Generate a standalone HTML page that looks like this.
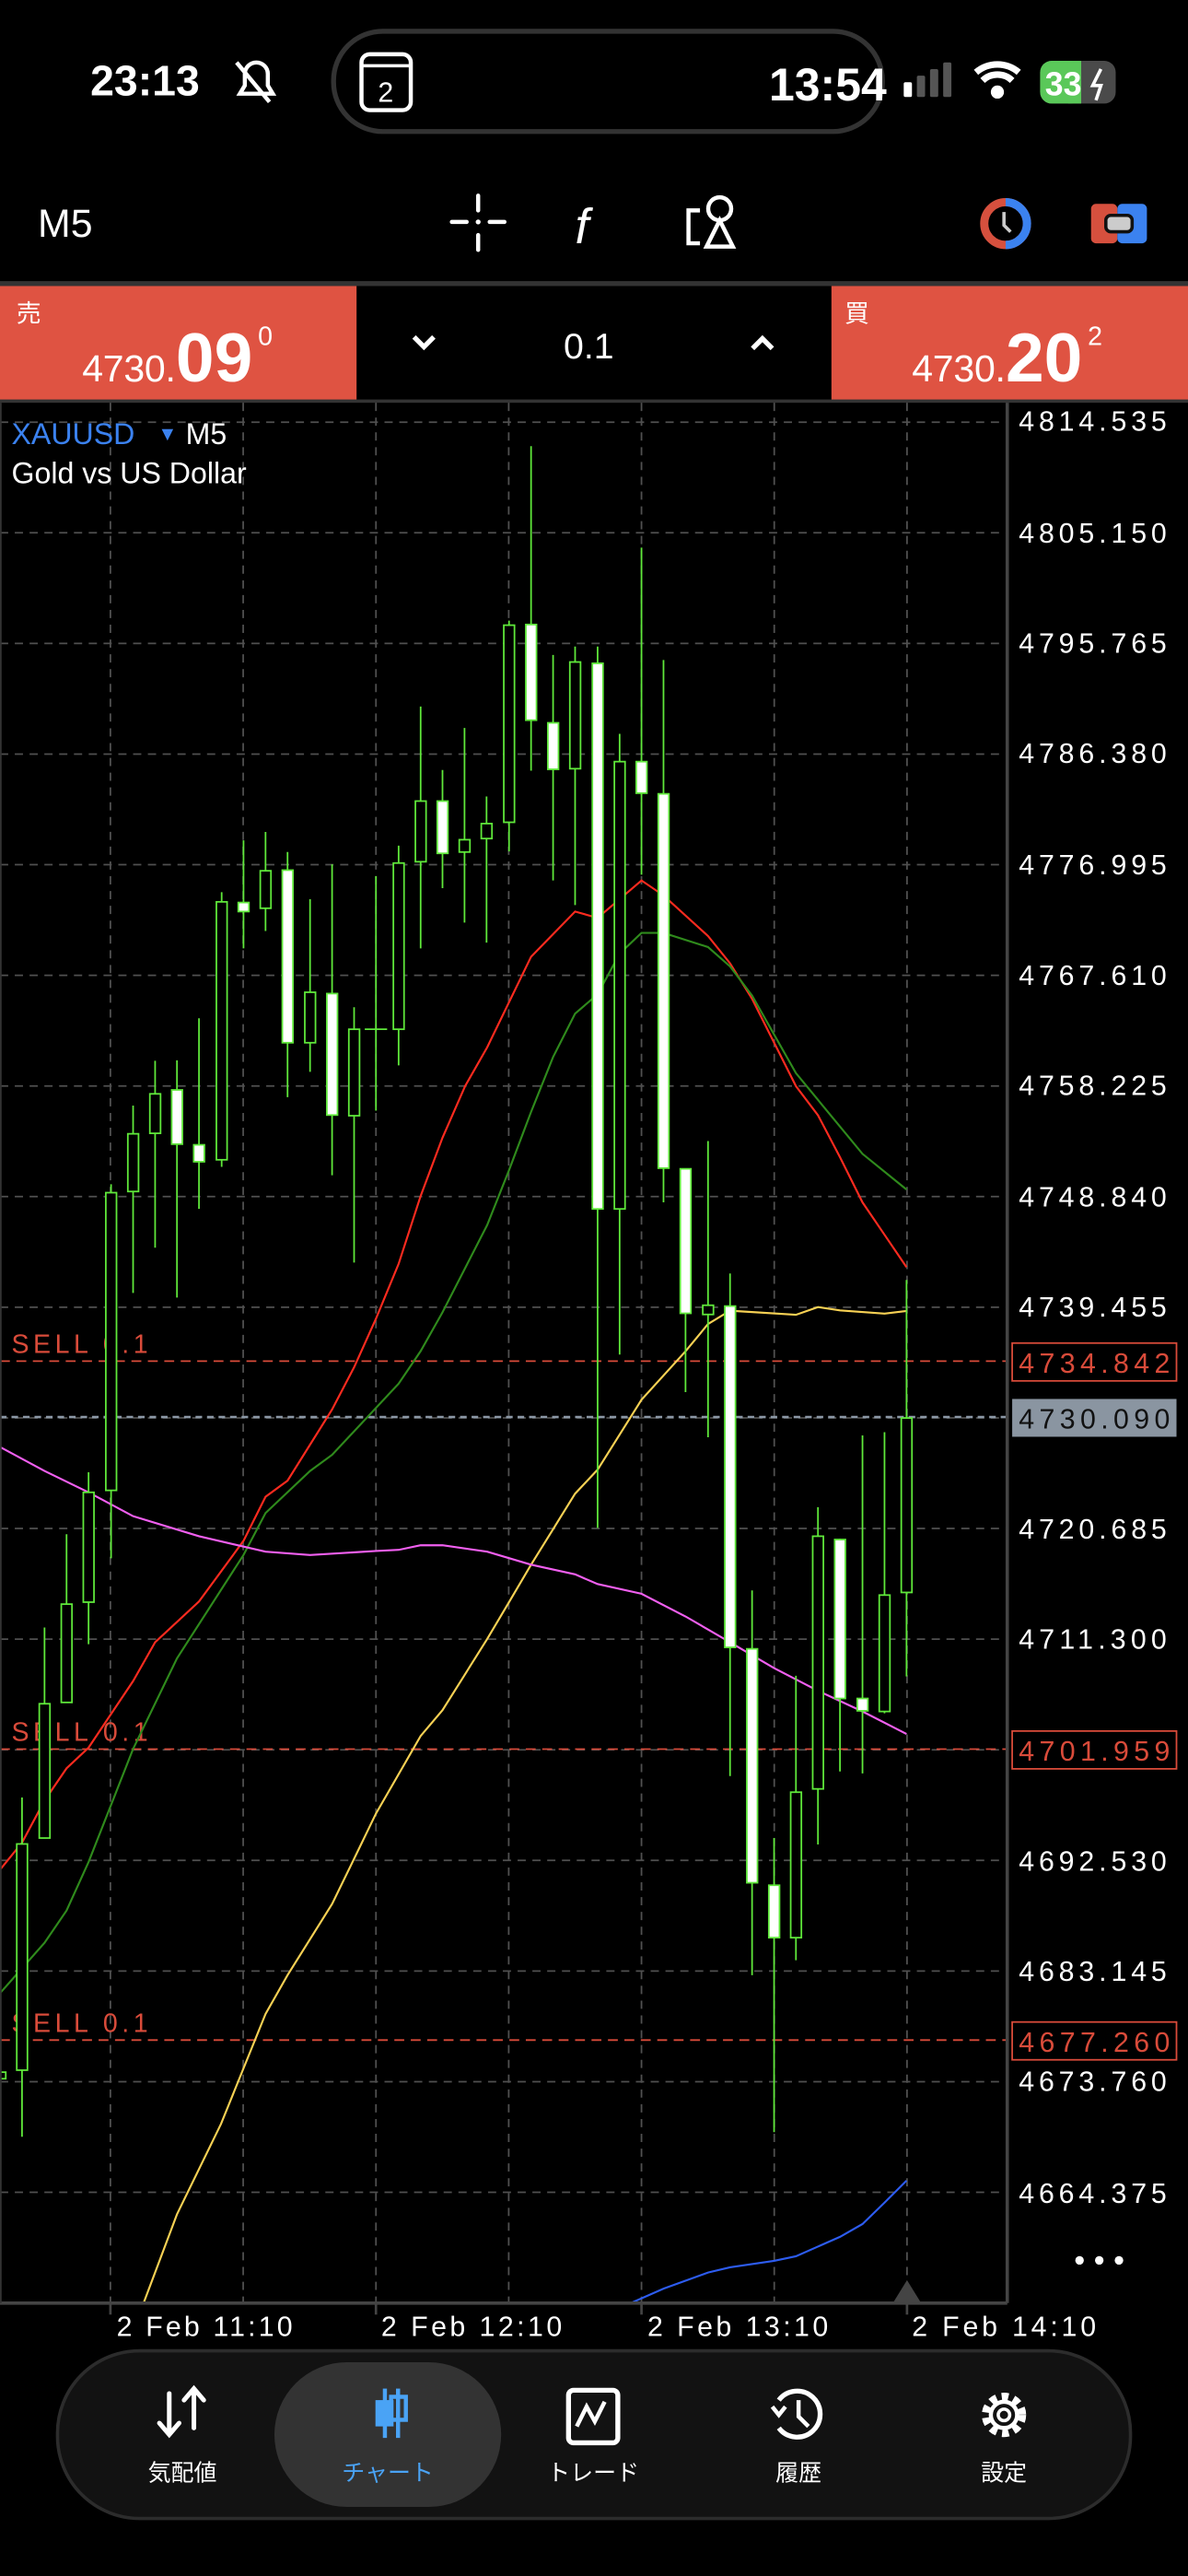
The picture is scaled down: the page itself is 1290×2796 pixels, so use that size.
<!DOCTYPE html>
<html><head><meta charset="utf-8"><style>
html,body{margin:0;padding:0;background:#000;width:1290px;height:2796px;overflow:hidden}
svg{display:block}
text{font-family:"Liberation Sans","Noto Sans CJK JP",sans-serif}
</style></head><body>
<svg width="1290" height="2796" viewBox="0 0 723 1567" preserveAspectRatio="none" xmlns="http://www.w3.org/2000/svg">
<rect width="723" height="1567" fill="#000"/>
<!-- status bar -->
<text x="55" y="58" fill="#fff" font-size="26" font-weight="bold">23:13</text>
<g stroke="#fff" stroke-width="2.5" fill="none"><path d="M146 57 h20 l-3-5 v-7 a7 7 0 0 0-14 0 v7 z"/><line x1="144" y1="38" x2="164" y2="62"/></g>
<rect x="203" y="19" width="334" height="61" rx="30" fill="none" stroke="#333" stroke-width="3"/>
<rect x="220" y="33" width="30" height="34" rx="5" fill="none" stroke="#fff" stroke-width="2.5"/>
<line x1="220" y1="40" x2="250" y2="40" stroke="#fff" stroke-width="2"/>
<text x="230" y="62" fill="#fff" font-size="17">2</text>
<text x="468" y="61" fill="#fff" font-size="28" font-weight="bold">13:54</text>
<g fill="#fff"><rect x="550" y="50" width="5" height="9" rx="1"/><rect x="558" y="46" width="5" height="13" rx="1" fill="#555"/><rect x="566" y="42" width="5" height="17" rx="1" fill="#555"/><rect x="574" y="38" width="5" height="21" rx="1" fill="#555"/></g>
<path d="M594 44 a20 20 0 0 1 26 0 M598 49 a13 13 0 0 1 18 0" stroke="#fff" stroke-width="4" fill="none"/><circle cx="607" cy="56" r="4" fill="#fff"/>
<rect x="633" y="37" width="46" height="26" rx="7" fill="#4a4a4a"/>
<rect x="633" y="37" width="25" height="26" rx="7" fill="#5ac859"/><rect x="650" y="37" width="8" height="26" fill="#5ac859"/>
<text x="636" y="58" fill="#fff" font-size="20" font-weight="bold">33</text>
<path d="M670 42 l-5 10 h5 l-3 9" stroke="#fff" stroke-width="2" fill="none"/>
<!-- toolbar -->
<text x="23" y="144" fill="#fff" font-size="24">M5</text>
<g stroke="#fff" stroke-width="2.5" stroke-linecap="round"><line x1="291" y1="119" x2="291" y2="128"/><line x1="291" y1="143" x2="291" y2="152"/><line x1="275" y1="135" x2="284" y2="135"/><line x1="298" y1="135" x2="307" y2="135"/></g><circle cx="291" cy="135" r="1.5" fill="#fff"/>
<text x="350" y="148" fill="#fff" font-size="30" font-style="italic" font-family="Liberation Serif, serif">f</text>
<g stroke="#fff" stroke-width="2.5" fill="none"><circle cx="438" cy="127" r="7"/><path d="M438 134 l-8 16 h16 z"/><path d="M426 128 h-7 v20 h7"/></g>
<circle cx="612" cy="136" r="13" fill="none" stroke="#d6503e" stroke-width="5"/>
<path d="M612 123 a13 13 0 0 1 0 26" fill="none" stroke="#3b82f0" stroke-width="5"/>
<path d="M611 129 v8 l4 4" stroke="#ccc" stroke-width="2" fill="none"/>
<rect x="664" y="124" width="16" height="24" rx="3" fill="#d6503e"/><rect x="680" y="124" width="18" height="24" rx="3" fill="#3b82f0"/><rect x="673" y="131" width="16" height="10" rx="3" fill="#ccc" stroke="#111" stroke-width="2"/>
<rect x="0" y="171" width="723" height="3" fill="#333"/>
<!-- price bar -->
<rect x="0" y="174" width="217" height="70" fill="#df5342"/>
<rect x="506" y="174" width="217" height="70" fill="#df5342"/>
<text x="10" y="196" fill="#fff" font-size="15">売</text>
<text x="50" y="232" fill="#fff" font-size="23" textLength="57">4730.</text>
<text x="107" y="232" fill="#fff" font-size="42" font-weight="bold">09</text>
<text x="157" y="210" fill="#fff" font-size="16">0</text>
<text x="514" y="196" fill="#fff" font-size="15">買</text>
<text x="555" y="232" fill="#fff" font-size="23" textLength="57">4730.</text>
<text x="612" y="232" fill="#fff" font-size="42" font-weight="bold">20</text>
<text x="662" y="210" fill="#fff" font-size="16">2</text>
<path d="M252 205 l6 6 l6-6" stroke="#fff" stroke-width="3" fill="none"/>
<text x="343" y="218" fill="#fff" font-size="22">0.1</text>
<path d="M458 212 l6-6 l6 6" stroke="#fff" stroke-width="3" fill="none"/>
<rect x="0" y="243" width="723" height="2" fill="#333"/>
<!-- chart grid -->
<g stroke="#505050" stroke-width="1" stroke-dasharray="5,4">
<line x1="67.2" y1="245" x2="67.2" y2="1400"/><line x1="148" y1="245" x2="148" y2="1400"/><line x1="228.8" y1="245" x2="228.8" y2="1400"/><line x1="309.6" y1="245" x2="309.6" y2="1400"/><line x1="390.4" y1="245" x2="390.4" y2="1400"/><line x1="471.2" y1="245" x2="471.2" y2="1400"/><line x1="552" y1="245" x2="552" y2="1400"/>
<line x1="0" y1="256.8" x2="613" y2="256.8"/><line x1="0" y1="324.1" x2="613" y2="324.1"/><line x1="0" y1="391.4" x2="613" y2="391.4"/><line x1="0" y1="458.7" x2="613" y2="458.7"/><line x1="0" y1="526" x2="613" y2="526"/><line x1="0" y1="593.3" x2="613" y2="593.3"/><line x1="0" y1="660.6" x2="613" y2="660.6"/><line x1="0" y1="727.9" x2="613" y2="727.9"/><line x1="0" y1="795.2" x2="613" y2="795.2"/><line x1="0" y1="862.5" x2="613" y2="862.5"/><line x1="0" y1="929.8" x2="613" y2="929.8"/><line x1="0" y1="997.1" x2="613" y2="997.1"/><line x1="0" y1="1064.4" x2="613" y2="1064.4"/><line x1="0" y1="1131.7" x2="613" y2="1131.7"/><line x1="0" y1="1199" x2="613" y2="1199"/><line x1="0" y1="1266.3" x2="613" y2="1266.3"/><line x1="0" y1="1333.6" x2="613" y2="1333.6"/>
</g>
<!-- sell lines -->
<g stroke="#d94b3a" stroke-width="1" stroke-dasharray="6,4"><line x1="0" y1="828" x2="613" y2="828"/><line x1="0" y1="1064" x2="613" y2="1064"/><line x1="0" y1="1241" x2="613" y2="1241"/></g>
<line x1="0" y1="862" x2="613" y2="862" stroke="#8c98a6" stroke-width="1.5" stroke-dasharray="4,3"/>
<g fill="#d94b3a" font-size="16"><text x="7" y="823" textLength="83">SELL 0.1</text><text x="7" y="1059" textLength="83">SELL 0.1</text><text x="7" y="1236" textLength="83">SELL 0.1</text></g>
<svg x="0" y="245" width="613" height="1155" viewBox="0 245 613 1155" overflow="hidden">
<g fill="none" stroke-width="1.2">
<polyline stroke="#ff2b1f" points="0,1137.4 13.4,1120.9 27.1,1095.3 40.5,1075.7 53.9,1063.1 81,1022.6 94.4,999 121.1,974.2 148.2,937.3 161.6,910.5 175,900.7 202.1,857.4 215.5,831.7 228.8,802.2 242.6,768.8 256,727.5 269.3,692.1 283.1,660.6 296.5,637.1 323.2,582 350,554.5 363.7,558.4 390.4,535.6 403.8,544.7 430.9,569.4 444.3,586 457.7,607.6 484.4,660.7 497.8,678.4 511.2,703.9 524.9,731.4 538.3,751.1 551.7,770.8"/>
<polyline stroke="#2f8a1c" points="0,1212.5 27.1,1181.8 40.5,1162.2 53.9,1132.7 81,1063.9 107.7,1008.8 148.2,945.9 161.6,920.4 188.7,894.8 202.1,885 242.6,841.7 256,821.9 269.3,798.3 296.5,745.2 309.8,711.8 323.2,676.4 336.6,643 350,616.6 363.7,604.8 377.1,580.1 390.4,567.5 403.8,567.5 430.9,576.1 444.3,587.9 457.7,605.6 484.4,652.8 524.9,701.9 551.7,723.6"/>
<polyline stroke="#f7d154" points="87.3,1401.2 107.7,1347 134.5,1292 161.6,1225.1 175,1201.5 202.1,1158.2 215.5,1130.7 228.8,1103.2 256,1056 269.3,1040.3 296.5,997 309.8,974.6 323.2,951.8 336.6,930.2 350,908.6 363.7,894 390.4,851.5 417.2,822 430.9,805.4 444.3,797.3 484.4,799.8 497.8,795.1 511.2,797.1 538.3,799.1 551.7,797.5"/>
<polyline stroke="#f15ff0" points="0,880.2 27.1,894.8 53.9,907.8 81,922.3 121.1,934.5 161.6,943.9 188.7,945.9 228.8,943.5 242.6,942.8 256,940 269.3,940 296.5,943.9 323.2,951.8 350,957.7 363.7,963.6 390.4,969.5 417.2,983.3 444.3,999 471.1,1014.7 497.8,1028.5 524.9,1041.1 551.7,1054.8"/>
<polyline stroke="#2d5cf0" points="383.4,1401.2 403.8,1392.2 430.9,1382.4 444.3,1379.2 471.1,1375.3 484.4,1372.5 511.2,1360.7 524.9,1352.9 538.3,1339.9 551.7,1326.5"/>
</g>
<g stroke="#5fe83a" stroke-width="1">
<line x1="13.4" y1="1093.4" x2="13.4" y2="1299.8"/><line x1="27.1" y1="990" x2="27.1" y2="1118"/><line x1="40.5" y1="933.3" x2="40.5" y2="1035.6"/><line x1="53.9" y1="895.6" x2="53.9" y2="1000.2"/><line x1="67.6" y1="720.4" x2="67.6" y2="947.9"/><line x1="81" y1="672.5" x2="81" y2="786.5"/><line x1="94.4" y1="645.3" x2="94.4" y2="759"/><line x1="107.7" y1="645" x2="107.7" y2="789.3"/><line x1="121.1" y1="619.4" x2="121.1" y2="735.4"/><line x1="134.9" y1="542.7" x2="134.9" y2="709.8"/><line x1="148.2" y1="511.2" x2="148.2" y2="576.9"/><line x1="161.6" y1="506.1" x2="161.6" y2="566.3"/><line x1="175" y1="518.3" x2="175" y2="667.4"/><line x1="188.7" y1="547" x2="188.7" y2="652"/><line x1="202.1" y1="525.8" x2="202.1" y2="714.9"/><line x1="215.5" y1="612.7" x2="215.5" y2="768"/><line x1="228.8" y1="532.9" x2="228.8" y2="675.6"/><line x1="242.6" y1="514.4" x2="242.6" y2="648.1"/><line x1="256" y1="429.8" x2="256" y2="576.9"/><line x1="269.3" y1="468.4" x2="269.3" y2="540.3"/><line x1="282.7" y1="442.8" x2="282.7" y2="561.2"/><line x1="296.1" y1="484.5" x2="296.1" y2="573.4"/><line x1="309.8" y1="377.5" x2="309.8" y2="517.9"/><line x1="323.2" y1="271.4" x2="323.2" y2="468.8"/><line x1="336.6" y1="398.4" x2="336.6" y2="535.6"/><line x1="350" y1="393.3" x2="350" y2="550.6"/><line x1="363.7" y1="393.3" x2="363.7" y2="929.4"/><line x1="377.1" y1="446.4" x2="377.1" y2="824"/><line x1="390.4" y1="333.1" x2="390.4" y2="532.1"/><line x1="403.8" y1="401.5" x2="403.8" y2="731.4"/><line x1="417.2" y1="711" x2="417.2" y2="846.8"/><line x1="430.9" y1="694.1" x2="430.9" y2="874.3"/><line x1="444.3" y1="774.7" x2="444.3" y2="1080.4"/><line x1="457.7" y1="967.5" x2="457.7" y2="1201.5"/><line x1="471.1" y1="1118.1" x2="471.1" y2="1297"/><line x1="484.4" y1="1019.4" x2="484.4" y2="1192.4"/><line x1="497.8" y1="916.8" x2="497.8" y2="1122"/><line x1="511.2" y1="936" x2="511.2" y2="1077.6"/><line x1="524.9" y1="873.2" x2="524.9" y2="1078.8"/><line x1="538.3" y1="871.2" x2="538.3" y2="1042.2"/><line x1="551.7" y1="778.6" x2="551.7" y2="1019.8"/>
<line x1="222" y1="626.1" x2="235.6" y2="626.1"/>
</g>
<g stroke="#5fe83a" stroke-width="1" fill="#000">
<rect x="-3" y="1260.5" width="6.5" height="4"/>
<rect x="10.2" y="1121.7" width="6.5" height="137.6"/><rect x="23.9" y="1036.4" width="6.5" height="81.7"/><rect x="37.3" y="975.8" width="6.5" height="59.8"/><rect x="50.7" y="907.8" width="6.5" height="66.8"/><rect x="64.4" y="725.5" width="6.5" height="181.1"/><rect x="77.8" y="689.7" width="6.5" height="35.1"/><rect x="91.2" y="665.4" width="6.5" height="24"/><rect x="131.7" y="548.6" width="6.5" height="156.9"/><rect x="158.4" y="529.7" width="6.5" height="22.8"/><rect x="185.5" y="603.6" width="6.5" height="30.7"/><rect x="212.3" y="626.1" width="6.5" height="52.6"/><rect x="239.4" y="525" width="6.5" height="101.1"/><rect x="252.8" y="487.3" width="6.5" height="36.9"/><rect x="279.5" y="510.8" width="6.5" height="7.5"/><rect x="292.9" y="501" width="6.5" height="9.1"/><rect x="306.6" y="380.3" width="6.5" height="119.9"/><rect x="346.8" y="402.7" width="6.5" height="64.9"/><rect x="373.9" y="463.3" width="6.5" height="272.1"/><rect x="427.7" y="794" width="6.5" height="5.6"/><rect x="481.2" y="1090.2" width="6.5" height="88.5"/><rect x="494.6" y="934.5" width="6.5" height="153.7"/><rect x="535.1" y="970.3" width="6.5" height="70.8"/><rect x="548.5" y="862.6" width="6.5" height="106.1"/>
</g>
<g stroke="#5fe83a" stroke-width="1" fill="#fff">
<rect x="104.5" y="663" width="6.5" height="33"/><rect x="117.9" y="696.4" width="6.5" height="10.3"/><rect x="145" y="549" width="6.5" height="5.5"/><rect x="171.8" y="529.3" width="6.5" height="105"/><rect x="198.9" y="604.4" width="6.5" height="73.9"/><rect x="266.1" y="487.3" width="6.5" height="31.8"/><rect x="320" y="379.9" width="6.5" height="58.2"/><rect x="333.4" y="439.7" width="6.5" height="28.3"/><rect x="360.5" y="403.5" width="6.5" height="331.9"/><rect x="387.2" y="463.3" width="6.5" height="19.2"/><rect x="400.6" y="482.9" width="6.5" height="227.7"/><rect x="414" y="711" width="6.5" height="87.9"/><rect x="441.1" y="794.5" width="6.5" height="207.6"/><rect x="454.5" y="1003" width="6.5" height="142.3"/><rect x="467.9" y="1146.8" width="6.5" height="31.9"/><rect x="508" y="936.5" width="6.5" height="96.7"/><rect x="521.7" y="1033.2" width="6.5" height="7.5"/>
</g>
</svg>
<!-- chart frame -->
<line x1="613" y1="245" x2="613" y2="1401" stroke="#444" stroke-width="2"/>
<line x1="0" y1="1401" x2="613" y2="1401" stroke="#444" stroke-width="2"/>
<line x1="0.5" y1="245" x2="0.5" y2="1401" stroke="#333" stroke-width="1"/>
<g stroke="#444" stroke-width="1.5"><line x1="67.2" y1="1401" x2="67.2" y2="1408"/><line x1="228.8" y1="1401" x2="228.8" y2="1408"/><line x1="390.4" y1="1401" x2="390.4" y2="1408"/><line x1="552" y1="1401" x2="552" y2="1408"/></g>
<path d="M544 1400 l8-13 l8 13 z" fill="#444"/>
<!-- labels -->
<text x="7" y="270" fill="#3b82f0" font-size="18">XAUUSD</text>
<text x="96" y="268" fill="#3b82f0" font-size="12">▼</text>
<text x="113" y="270" fill="#fff" font-size="18">M5</text>
<text x="7" y="294" fill="#fff" font-size="18">Gold vs US Dollar</text>
<g fill="#fff" font-size="17">
<text x="620" y="262" textLength="90">4814.535</text><text x="620" y="330" textLength="90">4805.150</text><text x="620" y="397" textLength="90">4795.765</text><text x="620" y="464" textLength="90">4786.380</text><text x="620" y="532" textLength="90">4776.995</text><text x="620" y="599" textLength="90">4767.610</text><text x="620" y="666" textLength="90">4758.225</text><text x="620" y="734" textLength="90">4748.840</text><text x="620" y="801" textLength="90">4739.455</text><text x="620" y="936" textLength="90">4720.685</text><text x="620" y="1003" textLength="90">4711.300</text><text x="620" y="1138" textLength="90">4692.530</text><text x="620" y="1205" textLength="90">4683.145</text><text x="620" y="1272" textLength="90">4673.760</text><text x="620" y="1340" textLength="90">4664.375</text>
</g>
<rect x="616" y="817" width="100" height="23" fill="#000" stroke="#d94b3a" stroke-width="1"/>
<text x="620" y="835" fill="#d94b3a" font-size="17" textLength="92">4734.842</text>
<rect x="616" y="851" width="100" height="23" fill="#8a95a1"/>
<text x="620" y="869" fill="#111" font-size="17" textLength="92">4730.090</text>
<rect x="616" y="1053" width="100" height="23" fill="#000" stroke="#d94b3a" stroke-width="1"/>
<text x="620" y="1071" fill="#d94b3a" font-size="17" textLength="92">4701.959</text>
<rect x="616" y="1230" width="100" height="23" fill="#000" stroke="#d94b3a" stroke-width="1"/>
<text x="620" y="1248" fill="#d94b3a" font-size="17" textLength="92">4677.260</text>
<g fill="#fff"><circle cx="657" cy="1375" r="2.6"/><circle cx="669" cy="1375" r="2.6"/><circle cx="681" cy="1375" r="2.6"/></g>
<g fill="#fff" font-size="17"><text x="71" y="1421" textLength="107">2 Feb 11:10</text><text x="232" y="1421" textLength="110">2 Feb 12:10</text><text x="394" y="1421" textLength="110">2 Feb 13:10</text><text x="555" y="1421" textLength="112">2 Feb 14:10</text></g>
<!-- bottom nav -->
<rect x="35" y="1430" width="653" height="102" rx="50" fill="#121212" stroke="#2c2c2c" stroke-width="2"/>
<rect x="167" y="1437" width="138" height="88" rx="44" fill="#333"/>
<g stroke="#fff" stroke-width="2.8" fill="none" stroke-linecap="round"><path d="M103 1456 v24 M97 1474 l6 7 l6-7"/><path d="M118 1477 v-24 M112 1460 l6-7 l6 7"/></g>
<g fill="#4aa3f5"><rect x="233" y="1453" width="2.5" height="30"/><rect x="228.5" y="1460" width="11" height="16"/><rect x="241" y="1453" width="2.5" height="30"/><rect x="238" y="1458" width="9" height="14" fill="none" stroke="#4aa3f5" stroke-width="2.5"/></g>
<rect x="346" y="1454" width="30" height="32" rx="3" fill="none" stroke="#fff" stroke-width="3"/>
<path d="M351 1476 l6-12 l5 9 l6-12" stroke="#fff" stroke-width="2.5" fill="none"/>
<path d="M474 1460 a14 14 0 1 1 0 17" stroke="#fff" stroke-width="3" fill="none"/><path d="M470 1464 l4 5 l4-5" stroke="#fff" stroke-width="2.5" fill="none"/><path d="M486 1460 v10 l6 6" stroke="#fff" stroke-width="2.5" fill="none"/>
<circle cx="611" cy="1469" r="11" fill="none" stroke="#fff" stroke-width="5" stroke-dasharray="4,3.2"/><circle cx="611" cy="1469" r="8" fill="none" stroke="#fff" stroke-width="2.5"/><circle cx="611" cy="1469" r="3.5" fill="none" stroke="#fff" stroke-width="2"/>
<g font-size="14" fill="#fff" text-anchor="middle"><text x="111" y="1509">気配値</text><text x="236" y="1509" fill="#4aa3f5">チャート</text><text x="361" y="1509">トレード</text><text x="486" y="1509">履歴</text><text x="611" y="1509">設定</text></g>
</svg>
</body></html>
